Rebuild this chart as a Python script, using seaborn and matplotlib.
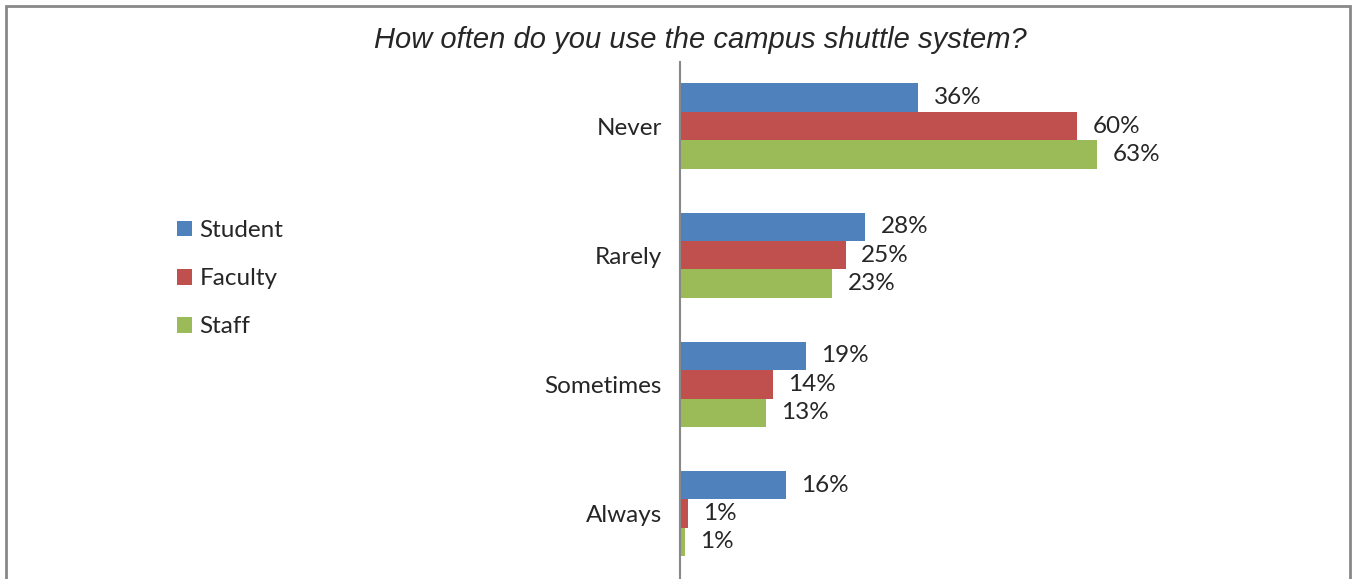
import numpy as np
import pandas as pd
import matplotlib
matplotlib.use("Agg")
import matplotlib.pyplot as plt
import seaborn as sns
from matplotlib.patches import Rectangle, Patch

answers = ["Never", "Rarely", "Sometimes", "Always"]
groups = ["Student", "Faculty", "Staff"]
student = [36, 28, 19, 16]
faculty = [60, 25, 14, 1.2]
staff = [63, 23, 13, 0.7]
colors = ["#4F81BD", "#C0504D", "#9BBB59"]

df = pd.DataFrame({
    "answer": answers * 3,
    "group": [g for g in groups for _ in answers],
    "pct": student + faculty + staff,
})

sns.set_style("white")
plt.rcParams["font.family"] = ["Lato", "DejaVu Sans"]

fig = plt.figure(figsize=(13.56, 5.79), dpi=100)
ax = fig.add_axes([680 / 1356, 1 - 578 / 579, 70 * 6.62 / 1356, (578 - 61.5) / 579])

sns.barplot(data=df, y="answer", x="pct", hue="group", order=answers,
            hue_order=groups, palette=colors, orient="h", width=0.66,
            saturation=1, legend=False, linewidth=0, ax=ax)

for cont in ax.containers:
    ax.bar_label(cont, labels=[f"{v:.0f}%" for v in cont.datavalues],
                 padding=11, fontsize=17.5)

ax.set_xlim(0, 70)
ax.set_ylim(3.5, -0.5)
ax.set_xlabel("")
ax.set_ylabel("")
ax.set_xticks([])
ax.tick_params(axis="y", length=0, pad=13, labelsize=17.5)
for s in ["top", "right", "bottom"]:
    ax.spines[s].set_visible(False)
ax.spines["left"].set_color("#888888")
ax.spines["left"].set_linewidth(1.5)

handles = [Patch(facecolor=c, edgecolor="none", label=g) for g, c in zip(groups, colors)]
fig.legend(handles=handles, loc="upper left", bbox_to_anchor=(177 / 1356, 1 - 220 / 579),
           frameon=False, fontsize=17.5, handlelength=0.62, handleheight=0.62,
           handletextpad=0.3, labelspacing=1.12, borderaxespad=0, borderpad=0)

fig.text(700 / 1356, 1 - 40 / 579, "How often do you use the campus shuttle system?",
         ha="center", va="center", fontsize=21, style="italic",
         family=["Liberation Sans", "DejaVu Sans"])

fig.patches.append(Rectangle((6 / 1356, -0.05), (1350 - 6) / 1356, 1.05 - 6 / 579,
                             transform=fig.transFigure, fill=False,
                             edgecolor="#888888", linewidth=2))

fig.savefig("out.png", dpi=100)
